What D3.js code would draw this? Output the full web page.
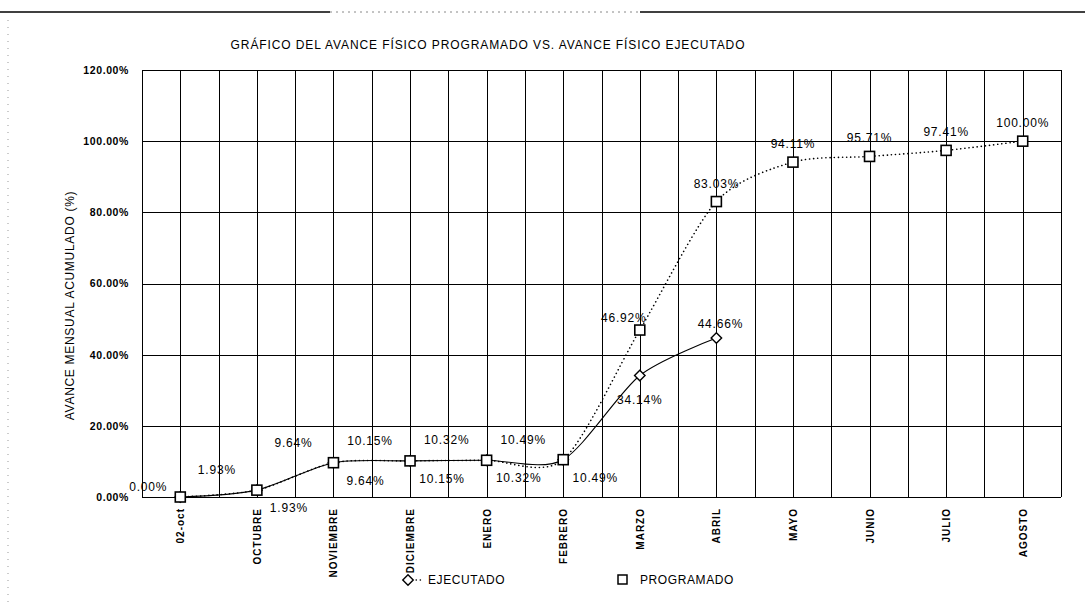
<!DOCTYPE html>
<html>
<head>
<meta charset="utf-8">
<script src="https://cdn.jsdelivr.net/npm/d3@7"></script>
<style>
  body { margin: 0; background: #fff; }
  svg { display: block; font-family: "Liberation Sans", Arial, sans-serif; }
</style>
</head>
<body>
<div id="chart"></div>
<script>
// chart data
const categories = ["02-oct", "OCTUBRE", "NOVIEMBRE", "DICIEMBRE", "ENERO", "FEBRERO",
    "MARZO", "ABRIL", "MAYO", "JUNIO", "JULIO", "AGOSTO"];
const ejecutado = [0.00, 1.93, 9.64, 10.15, 10.32, 10.49, 34.14, 44.66];
const programado = [0.00, 1.93, 9.64, 10.15, 10.32, 10.49, 46.92, 83.03, 94.11, 95.71, 97.41, 100.00];
const yTicks = [0, 20, 40, 60, 80, 100, 120];

const width = 1085, height = 606;
const plot = { left: 142, right: 1061, top: 70, bottom: 497 };

const svg = d3.select("#chart").append("svg")
    .attr("width", width).attr("height", height);

// scanned page border
svg.append("line").attr("x1", 0).attr("x2", 330).attr("y1", 12).attr("y2", 12)
    .attr("stroke", "#000").attr("stroke-width", 1.5);
svg.append("line").attr("x1", 330).attr("x2", 640).attr("y1", 12).attr("y2", 12)
    .attr("stroke", "#888").attr("stroke-width", 1).attr("stroke-dasharray", "2,4");
svg.append("line").attr("x1", 640).attr("x2", width).attr("y1", 12).attr("y2", 12)
    .attr("stroke", "#000").attr("stroke-width", 1.5);
svg.append("line").attr("x1", 8).attr("x2", 8).attr("y1", 20).attr("y2", height)
    .attr("stroke", "#999").attr("stroke-width", 1).attr("stroke-dasharray", "1,6");

const x = d3.scaleBand().domain(categories).range([plot.left, plot.right]);
const y = d3.scaleLinear().domain([0, 120]).range([plot.bottom, plot.top]);
const bw = x.bandwidth();
const cx = c => x(c) + bw / 2;

// title
svg.append("text")
    .attr("x", 488).attr("y", 49)
    .attr("text-anchor", "middle")
    .attr("font-size", "12px")
    .attr("letter-spacing", "0.9px")
    .text("GRÁFICO DEL AVANCE FÍSICO PROGRAMADO VS. AVANCE FÍSICO EJECUTADO");

// grid
const grid = svg.append("g").attr("stroke", "#000").attr("stroke-width", 1);
grid.selectAll("line.h").data(yTicks).enter().append("line")
    .attr("x1", plot.left).attr("x2", plot.right)
    .attr("y1", d => Math.round(y(d)) + 0.5).attr("y2", d => Math.round(y(d)) + 0.5);
const vLines = [];
categories.forEach(c => { vLines.push(x(c)); vLines.push(cx(c)); });
vLines.push(plot.right);
grid.selectAll("line.v").data(vLines).enter().append("line")
    .attr("x1", d => Math.round(d) + 0.5).attr("x2", d => Math.round(d) + 0.5)
    .attr("y1", plot.top).attr("y2", plot.bottom);

// y axis
const yAxis = svg.append("g")
    .attr("transform", `translate(${plot.left},0)`)
    .call(d3.axisLeft(y).tickValues(yTicks).tickSize(0).tickPadding(13)
        .tickFormat(d => d.toFixed(2) + "%"));
yAxis.select(".domain").remove();
yAxis.selectAll("text").attr("font-size", "10.5px").attr("font-weight", "bold")
    .attr("letter-spacing", "0.6px").attr("fill", "#000");

svg.append("text")
    .attr("transform", `translate(74,${(plot.top + plot.bottom) / 2 + 22}) rotate(-90)`)
    .attr("text-anchor", "middle")
    .attr("font-size", "12px")
    .attr("letter-spacing", "0.7px")
    .text("AVANCE MENSUAL ACUMULADO  (%)");

// x axis
const xAxis = svg.append("g")
    .attr("transform", `translate(0,${plot.bottom})`)
    .call(d3.axisBottom(x).tickSize(0).tickPadding(0));
xAxis.select(".domain").remove();
xAxis.selectAll("text")
    .attr("font-size", "10px").attr("font-weight", "bold").attr("fill", "#000")
    .attr("letter-spacing", "1px")
    .attr("text-anchor", "end")
    .attr("dy", null)
    .attr("transform", "translate(4,11) rotate(-90)");

// lines
const line = d3.line()
    .x((d, i) => cx(categories[i]))
    .y(d => y(d))
    .curve(d3.curveCardinal.tension(0.2));

svg.append("path").datum(programado)
    .attr("d", line)
    .attr("fill", "none").attr("stroke", "#000").attr("stroke-width", 1.6)
    .attr("stroke-dasharray", "0.1,4").attr("stroke-linecap", "round");

svg.append("path").datum(ejecutado)
    .attr("d", line)
    .attr("fill", "none").attr("stroke", "#000").attr("stroke-width", 1.1);

// markers
const diamond = d3.symbol().type(d3.symbolDiamond2).size(70);
svg.append("g").selectAll("path").data(ejecutado).enter().append("path")
    .attr("d", diamond)
    .attr("transform", (d, i) => `translate(${cx(categories[i])},${y(d)})`)
    .attr("fill", "#fff").attr("stroke", "#000").attr("stroke-width", 1.4);

svg.append("g").selectAll("rect").data(programado).enter().append("rect")
    .attr("x", (d, i) => cx(categories[i]) - 5)
    .attr("y", d => y(d) - 5)
    .attr("width", 10).attr("height", 10)
    .attr("fill", "#fff").attr("stroke", "#000").attr("stroke-width", 1.6);

// data labels (programado above-left, ejecutado below-right; first ejecutado label hidden)
const fmt = d => d.toFixed(2) + "%";
const progOffset = i => i === 0 ? [-32, -6] : i < 6 ? [-40, -16] : i === 6 ? [-16, -8] : [0, -14];
const ejecOffset = i => i < 6 ? [32, 22] : (i === 6 ? [0, 28] : [4, -10]);

const labels = svg.append("g").attr("font-size", "12px").attr("letter-spacing", "0.8px")
    .attr("text-anchor", "middle");
labels.selectAll("text.p").data(programado).enter().append("text")
    .attr("x", (d, i) => cx(categories[i]) + progOffset(i)[0])
    .attr("y", (d, i) => y(d) + progOffset(i)[1])
    .text(fmt);
labels.selectAll("text.e").data(ejecutado).enter().append("text")
    .filter((d, i) => i > 0)
    .attr("x", (d, i) => cx(categories[i + 1]) + ejecOffset(i + 1)[0])
    .attr("y", (d, i) => y(d) + ejecOffset(i + 1)[1])
    .text(fmt);

// legend
const legend = svg.append("g").attr("font-size", "12px").attr("letter-spacing", "0.6px");
legend.append("line").attr("x1", 408).attr("x2", 424).attr("y1", 580).attr("y2", 580)
    .attr("stroke", "#000").attr("stroke-width", 1.6)
    .attr("stroke-dasharray", "0.1,4").attr("stroke-linecap", "round");
legend.append("path").attr("d", diamond)
    .attr("transform", "translate(408,580)")
    .attr("fill", "#fff").attr("stroke", "#000").attr("stroke-width", 1.4);
legend.append("text").attr("x", 428).attr("y", 584).text("EJECUTADO");
legend.append("rect").attr("x", 618).attr("y", 575).attr("width", 9).attr("height", 9)
    .attr("fill", "#fff").attr("stroke", "#000").attr("stroke-width", 1.5);
legend.append("text").attr("x", 640).attr("y", 584).text("PROGRAMADO");
</script>
</body>
</html>
